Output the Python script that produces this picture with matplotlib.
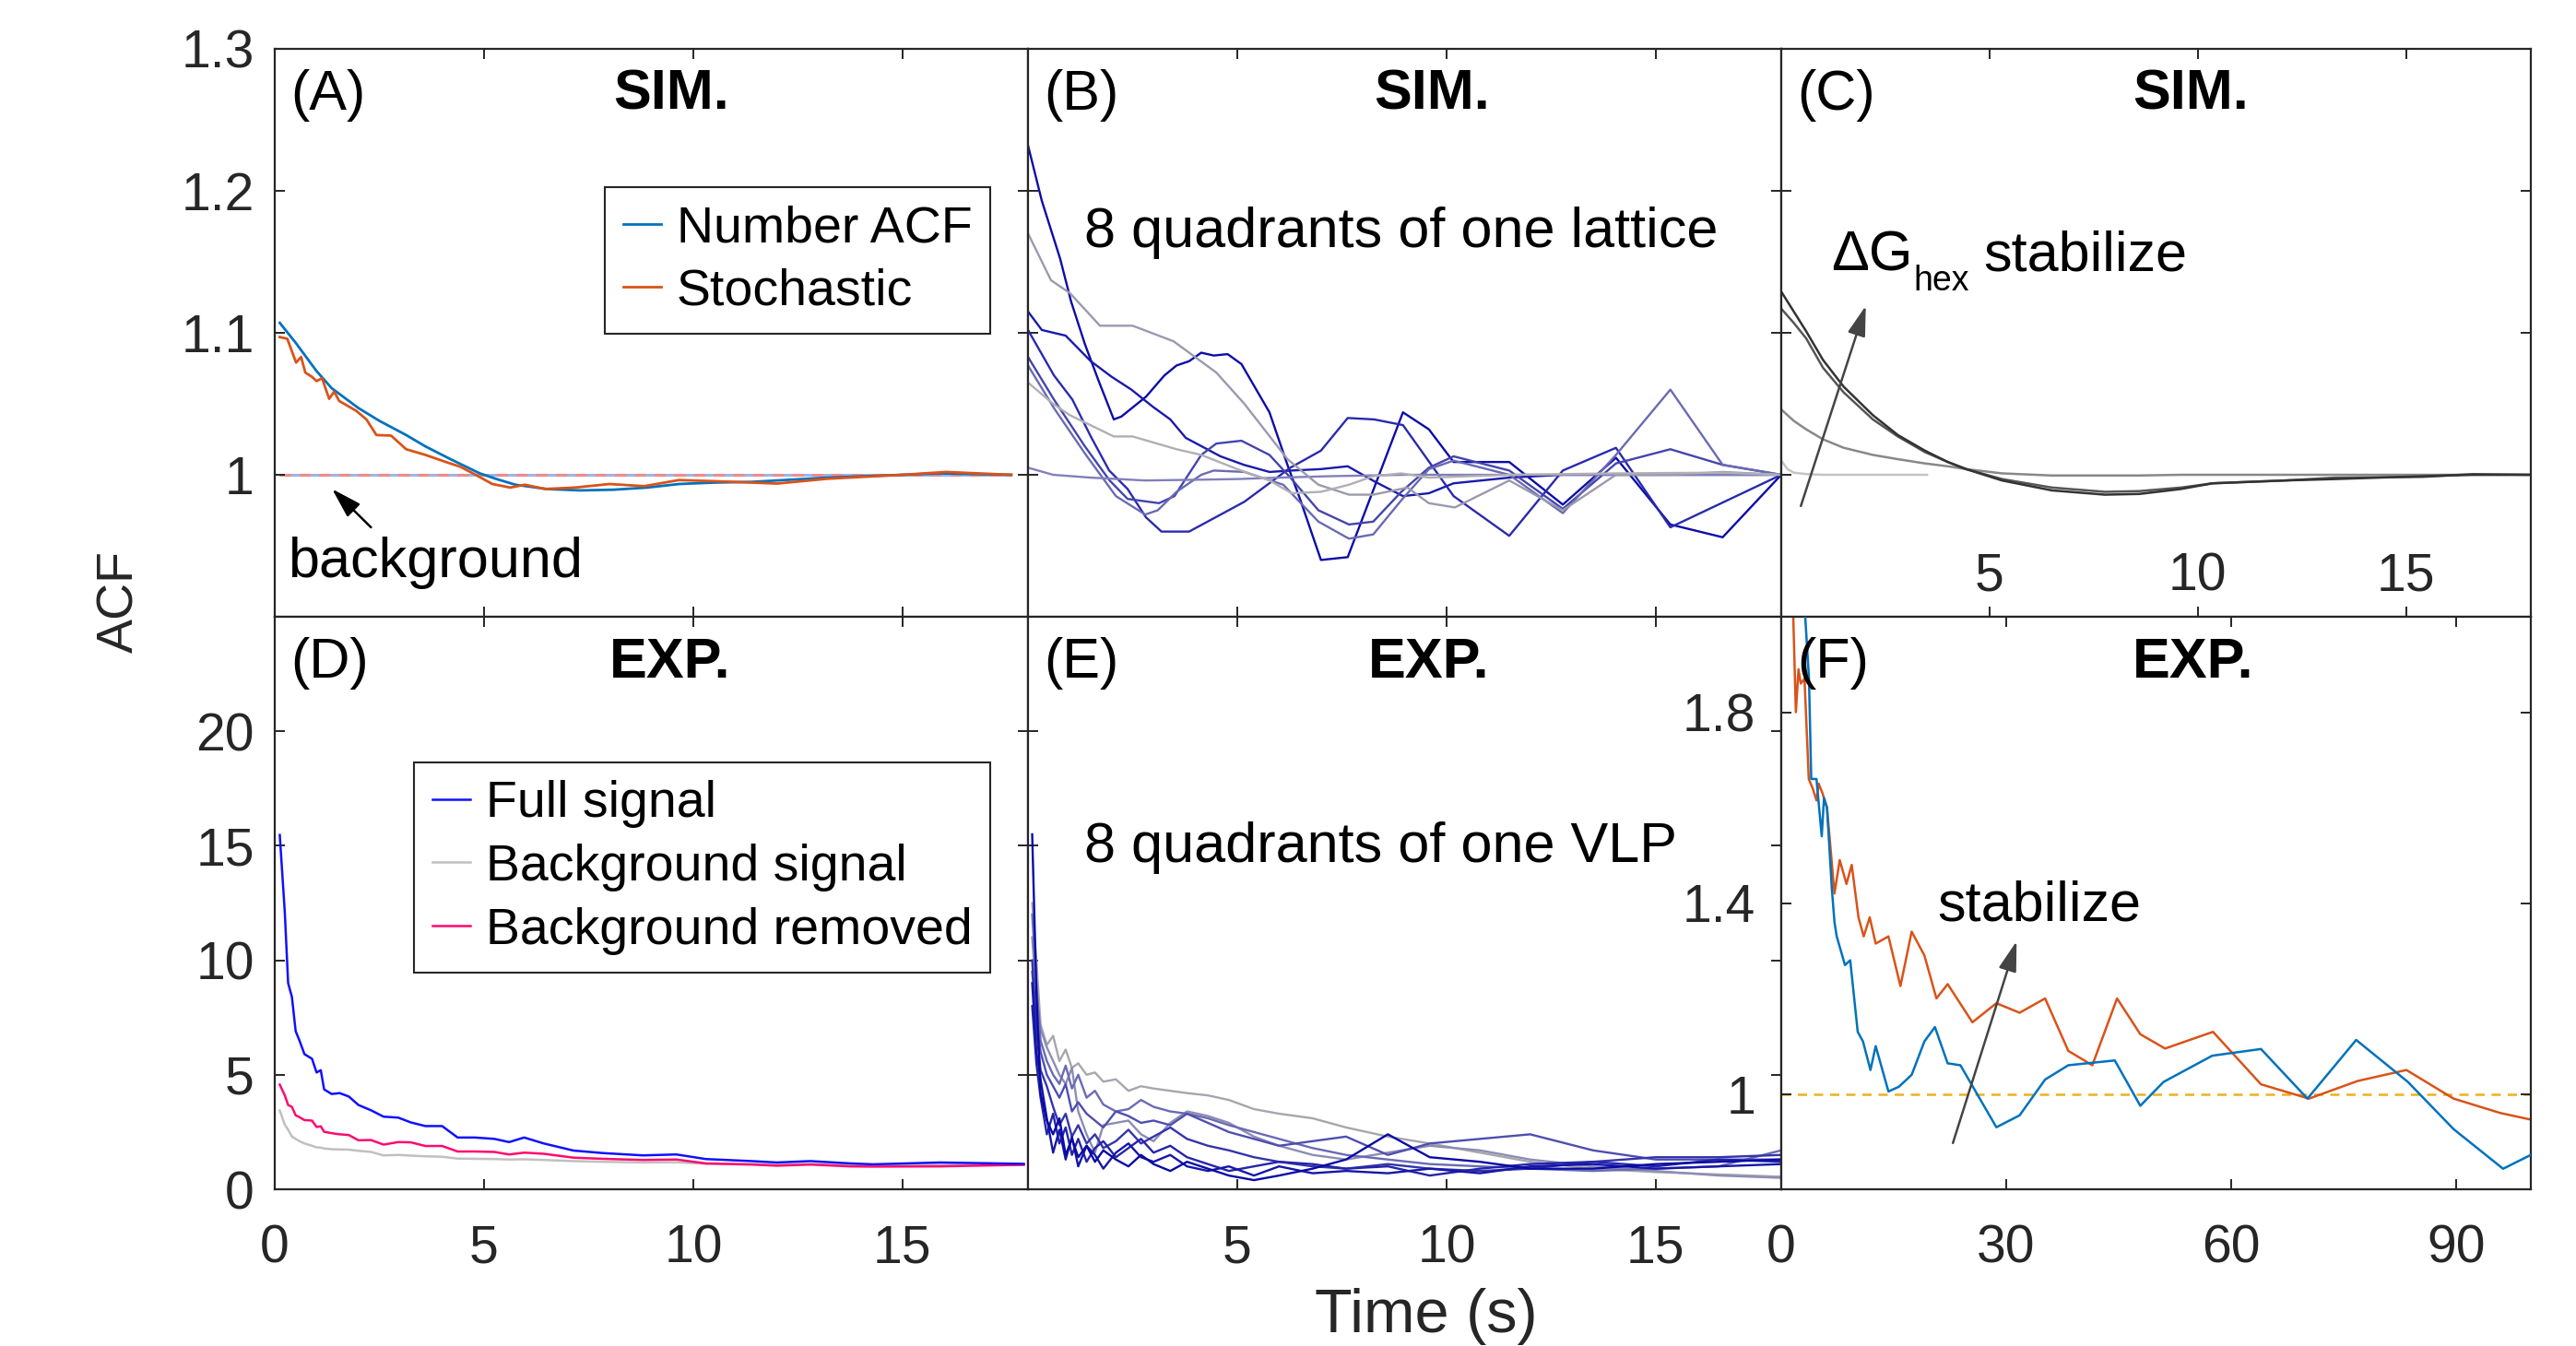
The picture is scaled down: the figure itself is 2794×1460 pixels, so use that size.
import matplotlib
matplotlib.use('Agg')
import matplotlib.pyplot as plt

plt.rcParams['font.family'] = ['Liberation Sans', 'DejaVu Sans']
plt.rcParams['mathtext.fontset'] = 'custom'
plt.rcParams['mathtext.rm'] = 'Liberation Sans'
plt.rcParams['mathtext.it'] = 'Liberation Sans:italic'
plt.rcParams['mathtext.bf'] = 'Liberation Sans:bold'

# ---------------- data ----------------
# Panel A (SIM.)
a_num_t = [0.12, 0.5, 1.0, 1.36, 2.0, 2.5, 3.14, 3.6, 4.2, 4.9, 5.3, 5.75, 6.5, 7.3, 8.1, 8.9,
           9.66, 10.5, 11.4, 12.3, 13.2, 14.1, 15.0, 15.9, 16.8, 17.6]
a_num_v = [1.107, 1.093, 1.073, 1.061, 1.047, 1.038, 1.028, 1.020, 1.011, 1.001, 0.997, 0.993,
           0.990, 0.989, 0.9895, 0.991, 0.9935, 0.9945, 0.995, 0.9965, 0.998, 0.999, 1.0, 1.001,
           1.0005, 1.0]
a_sto_t = [0.12, 0.3, 0.51, 0.63, 0.73, 0.89, 1.0, 1.13, 1.3, 1.42, 1.54, 1.95, 2.19, 2.43, 2.78,
           3.14, 3.6, 4.09, 4.44, 4.8, 5.2, 5.63, 5.98, 6.46, 7.17, 8.0, 8.83, 9.66, 10.8, 12.0,
           13.2, 15.0, 16.05, 16.8, 17.6]
a_sto_v = [1.097, 1.0958, 1.079, 1.083, 1.072, 1.069, 1.066, 1.068, 1.0535, 1.0586, 1.052, 1.045,
           1.039, 1.028, 1.0276, 1.018, 1.014, 1.009, 1.0056, 1.0, 0.9935, 0.991, 0.993, 0.990,
           0.991, 0.9935, 0.992, 0.9963, 0.9952, 0.9938, 0.9972, 1.0, 1.002, 1.001, 1.0]
a_bg_level = 1.0
a_arrow_head = (1.37, 0.990)
a_arrow_tail = (2.3, 0.963)

# Panel B (8 quadrants of one lattice)
b_lines = [
    ([0, 0.33, 0.77, 1.03, 1.36, 1.69, 2.05, 2.23, 2.82, 3.26, 3.55, 3.85, 4.14, 4.44, 4.77, 5.1,
      5.77, 6.2, 6.5, 7.0, 7.64, 8.96, 9.58, 10.17, 11.5, 12.78, 14.05, 15.35, 16.6, 18],
     [1.232, 1.193, 1.152, 1.122, 1.092, 1.066, 1.039, 1.041, 1.055, 1.070, 1.077, 1.080, 1.086,
      1.084, 1.085, 1.078, 1.044, 1.007, 0.983, 0.940, 0.942, 1.044, 1.032, 1.009, 1.009, 0.979,
      1.012, 0.965, 0.956, 1.0]),
    ([0, 0.33, 0.9, 1.5, 2.0, 2.47, 2.98, 3.4, 3.77, 4.6, 5.16, 5.77, 6.3, 7.0, 7.64, 8.3, 8.96,
      9.58, 10.17, 11.5, 12.78, 14.05, 15.35, 16.6, 18],
     [1.115, 1.102, 1.098, 1.080, 1.069, 1.060, 1.048, 1.039, 1.026, 1.013, 1.007, 1.002, 1.003,
      1.004, 1.006, 0.995, 0.985, 0.987, 0.994, 0.998, 1.0, 1.0, 1.0, 1.0, 1.0]),
    ([0, 0.62, 1.06, 1.5, 1.94, 2.38, 2.82, 3.19, 3.85, 5.17, 6.27, 7.0, 7.64, 8.27, 8.96, 10.17,
      11.5, 12.78, 14.05, 15.35, 18],
     [1.102, 1.070, 1.053, 1.027, 1.003, 0.990, 0.970, 0.960, 0.960, 0.981, 1.005, 1.017, 1.040,
      1.039, 1.035, 0.985, 0.957, 1.003, 1.019, 0.963, 1.0]),
    ([0, 0.62, 1.36, 1.95, 2.38, 3.13, 3.5, 4.14, 4.5, 5.1, 5.77, 6.27, 6.94, 7.67, 8.25, 8.92,
      9.58, 10.17, 11.5, 12.78, 14.05, 15.35, 16.6, 18],
     [1.083, 1.053, 1.020, 0.996, 0.983, 0.980, 0.985, 1.014, 1.022, 1.024, 1.014, 0.998, 0.975,
      0.965, 0.967, 0.988, 1.005, 1.013, 1.003, 0.976, 1.008, 1.018, 1.007, 1.0]),
    ([0, 0.62, 1.36, 2.1, 2.8, 3.1, 3.55, 4.14, 4.44, 5.17, 6.1, 6.94, 7.67, 8.25, 8.92, 9.58,
      10.17, 11.5, 12.78, 14.05, 15.35, 16.6, 18],
     [1.077, 1.047, 1.015, 0.985, 0.972, 0.975, 0.988, 1.000, 1.003, 1.002, 0.993, 0.967, 0.955,
      0.958, 0.982, 1.004, 1.010, 1.000, 0.973, 1.014, 1.060, 1.007, 1.0]),
    ([0, 0.6, 1.5, 2.8, 4.0, 5.0, 6.0, 7.2, 9.0, 12.0, 15.0, 18],
     [1.005, 1.0, 0.998, 0.996, 0.9965, 0.997, 0.998, 0.999, 1.0, 1.0, 1.0, 1.0]),
    ([0, 0.55, 1.0, 1.72, 2.5, 3.48, 4.5, 5.17, 6.2, 6.94, 7.67, 8.25, 9.07, 9.58, 10.2, 11.5,
      12.78, 14.05, 15.35, 16.6, 18],
     [1.170, 1.137, 1.128, 1.105, 1.105, 1.094, 1.072, 1.050, 1.011, 0.993, 0.986, 0.986, 0.991,
      0.980, 0.977, 0.996, 0.975, 1.0, 1.0, 1.002, 1.0]),
    ([0, 0.6, 1.0, 2.05, 2.5, 3.55, 4.14, 5.0, 5.77, 6.3, 7.0, 7.67, 8.25, 8.92, 9.58, 11.5, 14.05,
      16.6, 18],
     [1.065, 1.050, 1.042, 1.027, 1.027, 1.018, 1.014, 1.004, 0.996, 0.987, 0.988, 0.993, 0.999,
      1.001, 0.998, 1.0, 1.001, 1.0015, 1.0]),
]
b_colors = ['#0c0ca8', '#1a1aaa', '#2a2aac', '#4444ae', '#6a6ab2', '#8080bc', '#9a9aae', '#b0b0b4']

# Panel C (dG_hex)
c_t = [0, 0.3, 0.6, 1.0, 1.5, 2.2, 2.8, 3.45, 4.0, 4.44, 5.3, 6.5, 7.77, 8.6, 9.6, 10.36, 12.1,
       13.3, 15.4, 16.6, 18.0]
c_v1 = [1.129, 1.115, 1.101, 1.081, 1.062, 1.042, 1.028, 1.017, 1.009, 1.004, 0.996, 0.989, 0.986,
        0.9865, 0.990, 0.994, 0.996, 0.997, 0.999, 1.0, 1.0]
c_v2 = [1.117, 1.107, 1.096, 1.0755, 1.058, 1.039, 1.027, 1.016, 1.009, 1.004, 0.997, 0.991, 0.988,
        0.9885, 0.991, 0.994, 0.996, 0.998, 0.9985, 1.0005, 1.0]
c_v3 = [1.046, 1.038, 1.032, 1.025, 1.019, 1.014, 1.011, 1.008, 1.006, 1.004, 1.001, 0.9995, 0.9995,
        0.9995, 1.0, 1.0, 1.0, 1.0, 1.0, 1.0, 1.0]
c_t4 = [0, 0.15, 0.3, 0.6, 1.0, 2.0, 3.5]
c_v4 = [1.010, 1.004, 1.0015, 1.0005, 1.0, 1.0, 1.0]
c_colors = ['#333333', '#555555', '#888888', '#c4c4c4']
c_arrow_tail = (0.47, 0.978)
c_arrow_head = (2.03, 1.119)

# Panel D (EXP.)
d_t = [0.12, 0.24, 0.32, 0.41, 0.5, 0.59, 0.71, 0.89, 1.0, 1.1, 1.18, 1.36, 1.55, 1.77, 2.0, 2.3,
       2.6, 2.95, 3.25, 3.6, 4.0, 4.37, 4.78, 5.25, 5.6, 5.96, 6.43, 7.14, 7.85, 8.8, 9.6, 10.3,
       11.4, 12.0, 12.8, 13.75, 14.3, 15.9, 17.9]
d_full = [15.47, 12.1, 9.0, 8.4, 6.9, 6.5, 5.9, 5.7, 5.1, 5.2, 4.36, 4.16, 4.2, 4.05, 3.68, 3.45,
          3.17, 3.13, 2.92, 2.76, 2.76, 2.26, 2.26, 2.2, 2.06, 2.26, 2.0, 1.69, 1.58, 1.48, 1.52,
          1.32, 1.23, 1.17, 1.23, 1.13, 1.09, 1.17, 1.11]
d_bg = [3.44, 2.82, 2.6, 2.3, 2.2, 2.1, 2.0, 1.9, 1.83, 1.82, 1.78, 1.75, 1.74, 1.73, 1.68, 1.63,
        1.48, 1.5, 1.47, 1.44, 1.42, 1.34, 1.33, 1.32, 1.3, 1.31, 1.28, 1.23, 1.2, 1.17, 1.18, 1.11,
        1.1, 1.09, 1.1, 1.08, 1.07, 1.07, 1.07]
d_removed = [4.57, 4.1, 3.68, 3.6, 3.23, 3.15, 3.02, 3.0, 2.72, 2.75, 2.51, 2.45, 2.4, 2.37, 2.14,
             2.15, 1.95, 2.06, 2.05, 1.89, 1.89, 1.65, 1.65, 1.63, 1.52, 1.6, 1.55, 1.38, 1.33,
             1.28, 1.3, 1.13, 1.08, 1.03, 1.08, 1.0, 0.99, 1.0, 1.07]

# Panel E (8 quadrants of one VLP)
e_t = [0.1, 0.2, 0.3, 0.45, 0.6, 0.75, 0.9, 1.05, 1.2, 1.4, 1.6, 1.8, 2.1, 2.4, 2.7, 3.0, 3.4, 3.8,
       4.3, 4.8, 5.4, 6.0, 6.8, 7.6, 8.6, 9.6, 10.8, 12.0, 13.5, 15.0, 16.5, 18.0]
e_lines = [
    [15.5, 8.7, 4.2, 3.0, 2.4, 3.1, 1.5, 2.2, 1.4, 1.9, 1.2, 1.7, 1.3, 1.0, 1.5, 1.1, 0.8, 1.2, 0.9,
     0.6, 0.4, 0.6, 0.9, 1.3, 2.4, 1.4, 1.2, 0.9, 0.9, 1.1, 1.2, 1.3],
    [9.0, 6.0, 4.8, 3.1, 1.6, 2.6, 1.3, 2.3, 1.0, 1.9, 1.5, 0.9, 1.6, 2.0, 1.4, 1.2, 1.5, 1.0, 0.8,
     1.0, 0.6, 1.0, 0.7, 0.8, 0.7, 0.9, 0.7, 1.0, 1.1, 0.9, 1.0, 1.1],
    [8.0, 5.5, 4.0, 2.4, 3.3, 2.0, 2.7, 1.5, 2.2, 1.2, 1.8, 2.1, 1.4, 1.8, 2.2, 1.6, 1.9, 1.4, 1.1,
     0.8, 1.0, 1.2, 1.1, 0.9, 1.0, 0.6, 0.9, 1.1, 1.2, 1.0, 1.3, 1.2],
    [10.0, 7.0, 5.2, 4.5, 3.6, 2.8, 3.3, 2.3, 2.8, 2.0, 2.4, 1.8, 2.1, 2.6, 2.0, 2.3, 2.7, 2.2, 1.9,
     1.7, 1.4, 1.2, 1.0, 0.9, 1.1, 0.9, 0.8, 0.9, 1.2, 1.4, 1.4, 1.5],
    [9.5, 7.5, 6.0, 5.0, 4.5, 4.0, 4.6, 3.4, 3.8, 3.3, 3.0, 2.7, 3.4, 3.2, 2.9, 3.0, 2.8, 3.3, 2.9,
     2.5, 2.2, 1.9, 2.1, 2.3, 1.5, 2.0, 2.2, 2.4, 1.7, 1.3, 1.3, 1.3],
    [12.0, 9.0, 6.5, 5.6, 5.0, 4.6, 5.4, 4.4, 5.0, 4.0, 4.3, 3.7, 3.4, 3.5, 3.9, 3.6, 3.4, 3.3, 3.1,
     2.8, 2.5, 2.2, 1.8, 1.5, 1.3, 1.1, 1.0, 0.9, 0.8, 0.9, 1.0, 1.7],
    [11.0, 8.5, 7.0, 6.2, 5.6, 5.0, 4.6, 5.3, 3.4, 2.4, 1.6, 2.8, 2.9, 3.0, 2.4, 2.1, 2.9, 3.4, 3.2,
     2.9, 2.3, 1.9, 1.5, 1.3, 1.6, 1.9, 1.7, 1.3, 1.0, 0.8, 0.6, 0.5],
    [12.5, 10.0, 7.2, 6.3, 6.7, 5.6, 6.1, 5.3, 5.5, 5.0, 5.1, 4.7, 4.8, 4.3, 4.5, 4.4, 4.3, 4.2, 4.1,
     3.9, 3.5, 3.3, 3.1, 2.7, 2.3, 2.0, 1.6, 1.2, 0.9, 0.75, 0.65, 0.55],
]
e_colors = ['#0a0aa5', '#1616a8', '#2424aa', '#3434ac', '#4e4eb0', '#6a6ab4', '#8c8cb4', '#a6a6ae']

# Panel F (EXP., 0-100 s)
f_blue_t = [2.9, 3.2, 3.7, 4.0, 4.7, 5.4, 5.7, 6.1, 6.75, 7.1, 7.4, 8.5, 9.2, 10.2, 10.9, 11.9, 12.6,
            14.3, 15.7, 17.4, 19.1, 20.5, 22.2, 23.9, 28.7, 31.8, 35.2, 38.3, 44.5, 47.9, 51.0,
            57.5, 64.0, 70.2, 76.7, 83.6, 89.7, 96.3, 100]
f_blue_v = [2.3, 2.0, 1.87, 1.66, 1.66, 1.54, 1.62, 1.60, 1.43, 1.36, 1.33, 1.27, 1.28, 1.13, 1.11,
            1.05, 1.10, 1.005, 1.015, 1.04, 1.11, 1.14, 1.064, 1.06, 0.93, 0.955, 1.03, 1.06, 1.07,
            0.975, 1.025, 1.08, 1.094, 0.99, 1.113, 1.025, 0.926, 0.843, 0.872]
f_orange_t = [1.0, 1.6, 1.95, 2.3, 2.6, 3.1, 3.67, 4.2, 4.7, 5.0, 5.5, 6.1, 7.1, 7.8, 8.7, 9.4, 10.3,
              11.0, 11.8, 12.6, 14.3, 15.9, 17.4, 19.1, 20.7, 22.2, 25.5, 28.7, 31.8, 35.2, 38.3,
              41.5, 44.8, 47.9, 51.2, 57.6, 64.0, 70.4, 76.9, 83.4, 89.7, 95.9, 100]
f_orange_v = [2.3, 2.0, 1.80, 1.89, 1.86, 1.87, 1.66, 1.64, 1.615, 1.65, 1.63, 1.60, 1.42, 1.49,
              1.44, 1.48, 1.37, 1.33, 1.37, 1.315, 1.33, 1.226, 1.34, 1.29, 1.20, 1.23, 1.15, 1.19,
              1.17, 1.20, 1.09, 1.06, 1.20, 1.125, 1.095, 1.13, 1.02, 0.99, 1.027, 1.05, 0.99, 0.96,
              0.946]
f_ref_level = 1.0
f_arrow_tail = (22.9, 0.897)
f_arrow_head = (31.4, 1.32)

# ---------------- layout ----------------
W, H = 2794, 1460
fig = plt.figure(figsize=(W / 100, H / 100), dpi=100)

cols = [(298, 1115), (1115, 1932), (1932, 2745)]
rows = [(53, 669), (669, 1290)]


def make_ax(c, r):
    x0, x1 = cols[c]
    y0, y1 = rows[r]
    return fig.add_axes([x0 / W, 1 - y1 / H, (x1 - x0) / W, (y1 - y0) / H])


AXC = '#262626'
TICK_FS = 41
LEG_FS = 40
ANN_FS = 44


def style(ax):
    for s in ax.spines.values():
        s.set_color(AXC)
        s.set_linewidth(1.6)
    ax.tick_params(direction='in', length=8, width=1.4, color=AXC, labelcolor=AXC,
                   labelsize=TICK_FS, top=True, right=True)
    ax.tick_params(axis='x', pad=27)
    ax.tick_params(axis='y', pad=16)


def panel_text(ax, label, title, tx):
    ax.text(0.021, 0.893, label, transform=ax.transAxes, fontsize=ANN_FS, va='baseline',
            ha='left', color='black', zorder=10)
    ax.text(tx, 0.893, title, transform=ax.transAxes, fontsize=ANN_FS, va='baseline',
            ha='center', fontweight='bold', color='black', zorder=10)


def arrow(ax, tail, head, color, lw=1.8):
    ax.annotate('', xy=head, xytext=tail,
                arrowprops=dict(arrowstyle='-|>,head_length=1.0,head_width=0.3', color=color,
                                lw=lw, shrinkA=0, shrinkB=0, mutation_scale=20))


top_yticks = [0.9, 1.0, 1.1, 1.2, 1.3]
top_xticks = [0, 5, 10, 15]

# ---- A ----
axA = make_ax(0, 0)
style(axA)
axA.hlines(a_bg_level, a_num_t[0], a_num_t[-1], color='#9db4ea', lw=2.2, zorder=1)
axA.hlines(a_bg_level, a_num_t[0], a_num_t[-1], color='#f08a8a', lw=2.2, linestyles=(0, (4, 3)),
           zorder=1.5)
lA1, = axA.plot(a_num_t, a_num_v, color='#0072BD', lw=2.0, zorder=3)
lA2, = axA.plot(a_sto_t, a_sto_v, color='#D95319', lw=2.0, zorder=4)
axA.set_xlim(0, 18)
axA.set_ylim(0.9, 1.3)
axA.set_xticks(top_xticks)
axA.set_yticks(top_yticks)
axA.set_yticklabels(['', '1', '1.1', '1.2', '1.3'])
axA.tick_params(axis='x', labelbottom=False)
legA = axA.legend([lA1, lA2], ['Number ACF', 'Stochastic'], loc='upper right',
                  bbox_to_anchor=(0.950, 0.757), borderaxespad=0, fontsize=LEG_FS,
                  fancybox=False, framealpha=1, edgecolor=AXC, handlelength=0.75,
                  handletextpad=0.3, borderpad=0.35, labelspacing=0.3)
legA.get_frame().set_linewidth(1.5)
panel_text(axA, '(A)', 'SIM.', 0.526)
axA.text(0.017, 0.07, 'background', transform=axA.transAxes, fontsize=ANN_FS, va='baseline')
arrow(axA, a_arrow_tail, a_arrow_head, 'black')

# ---- B ----
axB = make_ax(1, 0)
style(axB)
for (t, v), col in zip(b_lines, b_colors):
    axB.plot(t, v, color=col, lw=1.7)
axB.set_xlim(0, 18)
axB.set_ylim(0.9, 1.3)
axB.set_xticks(top_xticks)
axB.set_yticks(top_yticks)
axB.tick_params(labelbottom=False, labelleft=False)
panel_text(axB, '(B)', 'SIM.', 0.536)
axB.text(0.075, 0.6515, '8 quadrants of one lattice', transform=axB.transAxes, fontsize=ANN_FS,
         va='baseline')

# ---- C ----
axC = make_ax(2, 0)
style(axC)
axC.plot(c_t4, c_v4, color=c_colors[3], lw=1.8)
axC.plot(c_t, c_v3, color=c_colors[2], lw=1.8)
axC.plot(c_t, c_v2, color=c_colors[1], lw=1.8)
axC.plot(c_t, c_v1, color=c_colors[0], lw=1.8)
axC.set_xlim(0, 18)
axC.set_ylim(0.9, 1.3)
axC.set_xticks(top_xticks)
axC.set_xticklabels(['', '5', '10', '15'])
axC.set_yticks(top_yticks)
axC.tick_params(labelleft=False)
axC.tick_params(axis='x', pad=-51)
panel_text(axC, '(C)', 'SIM.', 0.546)
t_dg = axC.text(0.066, 0.61, 'ΔG', transform=axC.transAxes, fontsize=ANN_FS, va='baseline')
t_hex = axC.annotate('hex', xy=(1, 0), xycoords=t_dg, xytext=(1, -6),
                     textcoords='offset points', fontsize=27, va='baseline', ha='left')
axC.annotate('stabilize', xy=(1, 0), xycoords=(t_hex, t_dg), xytext=(11, 0),
             textcoords='offset points', fontsize=ANN_FS, va='bottom', ha='left')
arrow(axC, c_arrow_tail, c_arrow_head, '#444444')

# ---- D ----
bot_yticks = [0, 5, 10, 15, 20, 25]
axD = make_ax(0, 1)
style(axD)
lD1, = axD.plot(d_t, d_full, color='#1010ff', lw=1.8, zorder=3)
lD2, = axD.plot(d_t, d_bg, color='#c0c0c0', lw=1.8, zorder=2)
lD3, = axD.plot(d_t, d_removed, color='#ff0a6e', lw=1.8, zorder=2.5)
axD.set_xlim(0, 18)
axD.set_ylim(0, 25)
axD.set_xticks(top_xticks)
axD.set_yticks(bot_yticks)
axD.set_yticklabels(['0', '5', '10', '15', '20', ''])
legD = axD.legend([lD1, lD2, lD3], ['Full signal', 'Background signal', 'Background removed'],
                  loc='upper right', bbox_to_anchor=(0.950, 0.746), borderaxespad=0,
                  fontsize=LEG_FS, fancybox=False, framealpha=1, edgecolor=AXC,
                  handlelength=0.75, handletextpad=0.3, borderpad=0.35, labelspacing=0.3)
legD.get_frame().set_linewidth(1.5)
panel_text(axD, '(D)', 'EXP.', 0.525)

# ---- E ----
axE = make_ax(1, 1)
style(axE)
for v, col in zip(e_lines[::-1], e_colors[::-1]):
    axE.plot(e_t, v, color=col, lw=1.7)
axE.set_xlim(0, 18)
axE.set_ylim(0, 25)
axE.set_xticks(top_xticks)
axE.set_xticklabels(['', '5', '10', '15'])
axE.set_yticks(bot_yticks)
axE.tick_params(labelleft=False)
panel_text(axE, '(E)', 'EXP.', 0.532)
axE.text(0.075, 0.571, '8 quadrants of one VLP', transform=axE.transAxes, fontsize=ANN_FS,
         va='baseline')

# ---- F ----
axF = make_ax(2, 1)
style(axF)
axF.axhline(f_ref_level, color='#EDB120', lw=1.8, linestyle=(0, (4, 3)), zorder=1)
axF.plot(f_orange_t, f_orange_v, color='#D95319', lw=1.8, zorder=2)
axF.plot(f_blue_t, f_blue_v, color='#0072BD', lw=1.8, zorder=3)
axF.set_xlim(0, 100)
axF.set_ylim(0.8, 2.0)
axF.set_xticks([0, 30, 60, 90])
axF.set_yticks([1.0, 1.4, 1.8])
axF.set_yticklabels(['1', '1.4', '1.8'])
axF.tick_params(axis='y', pad=20)
panel_text(axF, '(F)', 'EXP.', 0.549)
axF.text(0.208, 0.47, 'stabilize', transform=axF.transAxes, fontsize=ANN_FS, va='baseline')
arrow(axF, f_arrow_tail, f_arrow_head, '#444444')

# ---- shared labels ----
fig.text(130 / W, 1 - 652 / H, 'ACF', rotation=90, fontsize=LEG_FS, ha='center', va='center',
         color=AXC)
fig.text(1547 / W, 1 - 1428 / H, 'Time (s)', fontsize=48, ha='center', va='center', color=AXC)

fig.savefig('out.png', dpi=100)
